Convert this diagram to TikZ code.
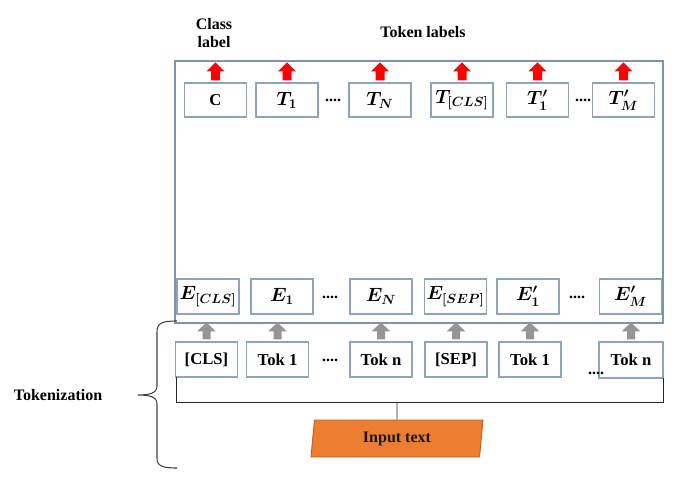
\documentclass[tikz,border=0pt]{standalone}
\usepackage{fontspec}
\setmainfont{Liberation Serif}
\usetikzlibrary{calc,shapes.geometric}
\definecolor{boxline}{HTML}{8EA3BF}
\definecolor{outerline}{HTML}{7F93AE}
\definecolor{arrred}{HTML}{FF0000}
\definecolor{arrgray}{HTML}{959595}
\definecolor{inorange}{HTML}{ED7D31}
\definecolor{inorangeline}{HTML}{C0631F}
\tikzset{
  tbox/.style={draw=boxline, line width=0.8pt, fill=white, minimum width=62*0.75pt, minimum height=34*0.75pt, inner sep=0pt, font=\bfseries\fontsize{12.5}{14}\selectfont},
  mbox/.style={tbox, font=\bfseries\fontsize{14}{16}\selectfont},
  lbl/.style={font=\bfseries\fontsize{12}{14}\selectfont, align=center, inner sep=0pt},
  dotsty/.style={font=\bfseries\fontsize{12}{14}\selectfont, inner sep=0pt},
  bracketline/.style={draw=black!85, line width=0.7pt},
}
\begin{document}
\begin{tikzpicture}[x=0.75pt,y=-0.75pt]
\useasboundingbox (0,0) rectangle (683,503);
% outer box
\node[draw=outerline, line width=0.9pt, minimum width=488*0.75pt, minimum height=262*0.75pt, inner sep=0pt] (outer) at (419,192) {};
% labels
\node[lbl] (classlbl) at (214,33) {Class\\label};
\node[lbl] (toklbl) at (423,32) {Token labels};
% top row
\boldmath
\node[tbox] (c) at (215.5,100) {C};
\node[mbox] (t1) at (287,100) {$T_1$};
\node[mbox] (tn) at (380,100) {$T_N$};
\node[mbox] (tcls) at (462,100) {$T_{[CLS]}$};
\node[mbox] (tp1) at (537.5,100) {$T'_1$};
\node[mbox] (tpm) at (623.5,100) {$T'_M$};
\node[dotsty] (d1) at (333,100) {....};
\node[dotsty] (d2) at (583,100) {....};
% E row
\node[mbox, minimum height=35*0.75pt] (ecls) at (208,296.5) {$E_{[CLS]}$};
\node[mbox, minimum height=35*0.75pt] (e1) at (282,296.5) {$E_1$};
\node[mbox, minimum height=35*0.75pt] (en) at (381,296.5) {$E_N$};
\node[mbox, minimum height=35*0.75pt] (esep) at (455.5,296.5) {$E_{[SEP]}$};
\node[mbox, minimum height=35*0.75pt] (ep1) at (528,296.5) {$E'_1$};
\node[mbox, minimum height=35*0.75pt] (epm) at (630.5,296.5) {$E'_M$};
\node[dotsty] (d3) at (330,297) {....};
\node[dotsty] (d4) at (577,297) {....};
% token row
\node[tbox, minimum height=35*0.75pt] (kcls) at (206.5,359.5) {[CLS]};
\node[tbox, minimum height=35*0.75pt] (k1) at (277.5,359.5) {Tok 1};
\node[tbox, minimum height=35*0.75pt] (kn) at (381,359.5) {Tok n};
\node[tbox, minimum height=35*0.75pt] (ksep) at (456,359.5) {[SEP]};
\node[tbox, minimum height=35*0.75pt] (kp1) at (530,359.5) {Tok 1};
\node[tbox, minimum height=36*0.75pt, minimum width=64*0.75pt] (kpn) at (631,360) {Tok n};
\node[dotsty] (d5) at (330,360) {....};
\node[dotsty] (d6) at (596,373) {....};
% red arrows
\foreach \n in {c,t1,tn,tcls,tp1,tpm}{
  \fill[arrred] ($(\n.north)+(-4.5,-2)$) -- ++(0,-9) -- ++(-4.5,0) -- ($(\n.north)+(0,-20)$) -- ($(\n.north)+(9,-11)$) -- ++(-4.5,0) -- ($(\n.north)+(4.5,-2)$) -- cycle;
}
% gray arrows
\foreach \n in {kcls,k1,kn,ksep,kp1,kpn}{
  \fill[arrgray] ($(\n.north)+(-4,-2)$) -- ++(0,-8) -- ++(-5.5,0) -- ($(\n.north)+(0,-19)$) -- ($(\n.north)+(9.5,-10)$) -- ++(-5.5,0) -- ($(\n.north)+(4,-2)$) -- cycle;
}
% bracket under tokens
\coordinate (bl) at (176,377);
\coordinate (blb) at (176,402);
\coordinate (brb) at (663,402);
\coordinate (br) at (663,378);
\coordinate (bm) at (397,402);
\draw[bracketline] (bl) -- (blb) -- (brb) -- (br);
% input text
\node[trapezium, trapezium left angle=76, trapezium right angle=104, trapezium stretches body,
      draw=inorangeline, fill=inorange, line width=0.7pt, inner sep=0pt,
      minimum width=172*0.75pt, minimum height=37*0.75pt,
      font=\bfseries\fontsize{12}{14}\selectfont, text=black!90] (input) at (397,438.5) {Input text};
\draw[bracketline] (bm) -- (input.north);
% left brace
\coordinate (bt) at (177,321);
\coordinate (bb) at (177,468);
\coordinate (btip) at (138,395);
\draw[bracketline, draw=black!75, line width=0.8pt] (bt) .. controls (162,321) and (157,323) .. (157,332) -- (157,386) .. controls (157,393) and (150,395) .. (btip) .. controls (150,395) and (157,397) .. (157,404) -- (157,458) .. controls (157,466) and (162,468) .. (bb);
\node[lbl] (tokz) at (58,395) {Tokenization};
\end{tikzpicture}
\end{document}
